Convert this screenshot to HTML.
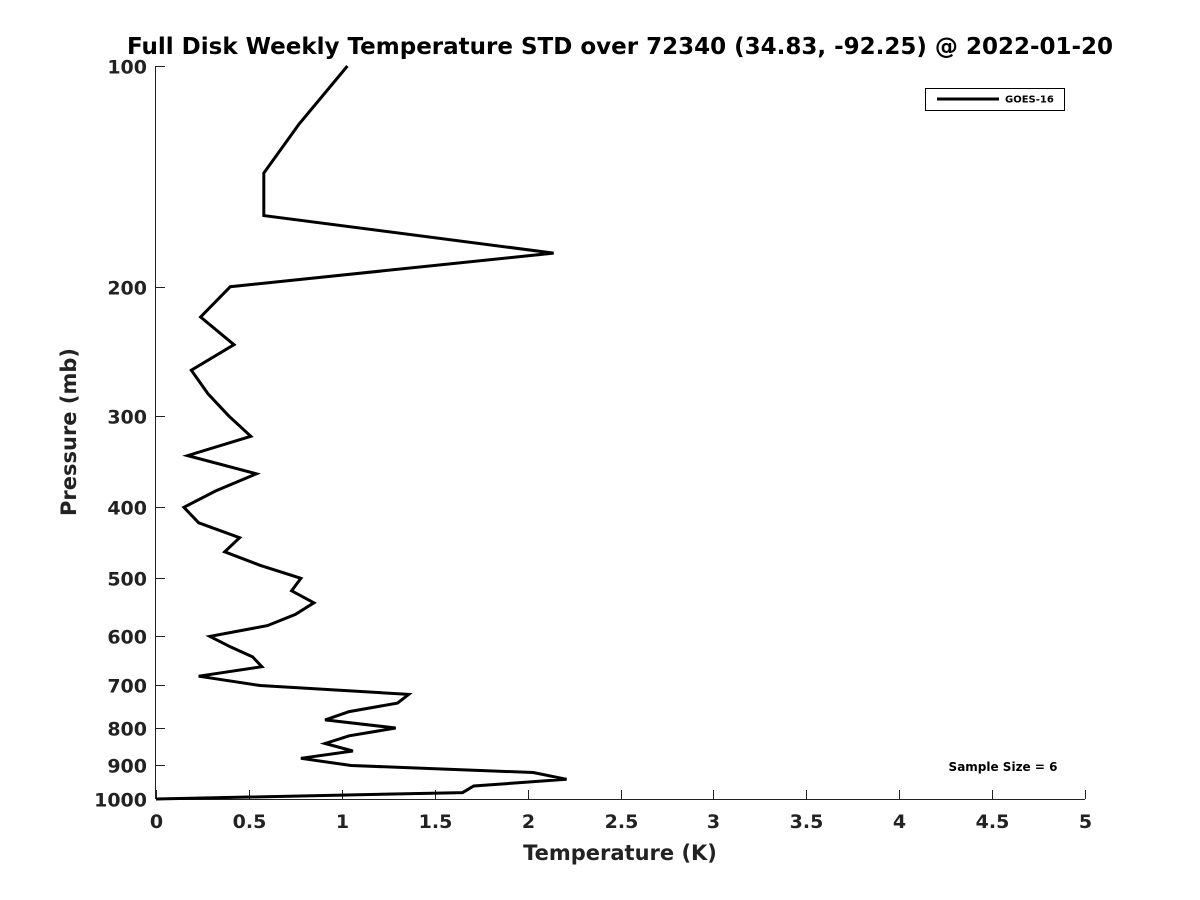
<!DOCTYPE html>
<html><head><meta charset="utf-8"><style>
body{margin:0;background:#fff}
svg{display:block;font-family:"DejaVu Sans","Liberation Sans",sans-serif}
</style></head><body>
<svg id="chart" width="1200" height="900" viewBox="0 0 1200 900">
<rect width="1200" height="900" fill="#fff"/>
<text x="620" y="54" text-anchor="middle" font-size="23" font-weight="bold" fill="#000">Full Disk Weekly Temperature STD over 72340 (34.83, -92.25) @ 2022-01-20</text>
<g id="axes"></g>
<polyline id="series" fill="none" stroke="#000" stroke-width="3" stroke-linejoin="miter"/>
<g>
<rect x="925.5" y="88.5" width="139" height="22" fill="#fff" stroke="#000" stroke-width="1"/>
<line x1="937" y1="99" x2="999" y2="99" stroke="#000" stroke-width="3"/>
<text x="1005" y="102.5" font-size="10" font-weight="bold">GOES-16</text>
</g>
<text x="1003" y="771" text-anchor="middle" font-size="12" font-weight="bold">Sample Size = 6</text>
<text x="620" y="860" text-anchor="middle" font-size="21" font-weight="bold" fill="#222">Temperature (K)</text>
<text x="0" y="0" transform="translate(76,432) rotate(-90)" text-anchor="middle" font-size="21" font-weight="bold" fill="#222">Pressure (mb)</text>
</svg>
<script>
const pressures=[100,120,140,160,180,200,220,240,260,280,300,320,340,360,380,400,420,440,460,480,500,520,540,560,580,600,620,640,660,680,700,720,740,760,780,800,820,840,860,880,900,920,940,960,980,1000];
const tempStd=[1.03,0.77,0.58,0.58,2.14,0.40,0.24,0.42,0.19,0.28,0.39,0.51,0.17,0.54,0.32,0.15,0.23,0.45,0.37,0.56,0.78,0.73,0.85,0.75,0.60,0.29,0.40,0.52,0.57,0.23,0.56,1.36,1.30,1.04,0.91,1.29,1.04,0.91,1.06,0.78,1.05,2.03,2.21,1.71,1.65,0.0];
const xTicks=[0,0.5,1,1.5,2,2.5,3,3.5,4,4.5,5];
const yTicks=[100,200,300,400,500,600,700,800,900,1000];
const X0=156,X1=1085,Y0=66,Y1=799;
const xs=v=>X0+(v/5)*(X1-X0);
const ys=p=>Y0+(Math.log10(p)-2)*(Y1-Y0);
const NS="http://www.w3.org/2000/svg";
const axes=document.getElementById('axes');
function mk(tag,attrs,parent){const e=document.createElementNS(NS,tag);for(const k in attrs)e.setAttribute(k,attrs[k]);parent.appendChild(e);return e;}
const xl=mk('line',{x1:X0,y1:Y1+0.5,x2:X1,y2:Y1+0.5,stroke:'#222','stroke-width':1},axes);


const yl=mk('line',{x1:X0-0.5,y1:Y0,x2:X0-0.5,y2:Y1,stroke:'#222','stroke-width':1},axes);


xTicks.forEach(t=>{const x=Math.round(xs(t))+0.5;
mk('line',{x1:x,y1:Y1,x2:x,y2:Y1-9,stroke:'#222'},axes);
const tx=mk('text',{x:x,y:Y1+29,'text-anchor':'middle','font-size':19,'font-weight':'bold',fill:'#222'},axes);
tx.textContent=t;

});
yTicks.forEach(t=>{const y=Math.round(ys(t))+0.5;
mk('line',{x1:X0,y1:y,x2:X0+9,y2:y,stroke:'#222'},axes);
const tx=mk('text',{x:X0-9,y:y+7,'text-anchor':'end','font-size':19,'font-weight':'bold',fill:'#222'},axes);
tx.textContent=t;

});
document.getElementById('series').setAttribute('points',pressures.map((p,i)=>xs(tempStd[i]).toFixed(1)+','+ys(p).toFixed(1)).join(' '));
</script>
</body></html>
